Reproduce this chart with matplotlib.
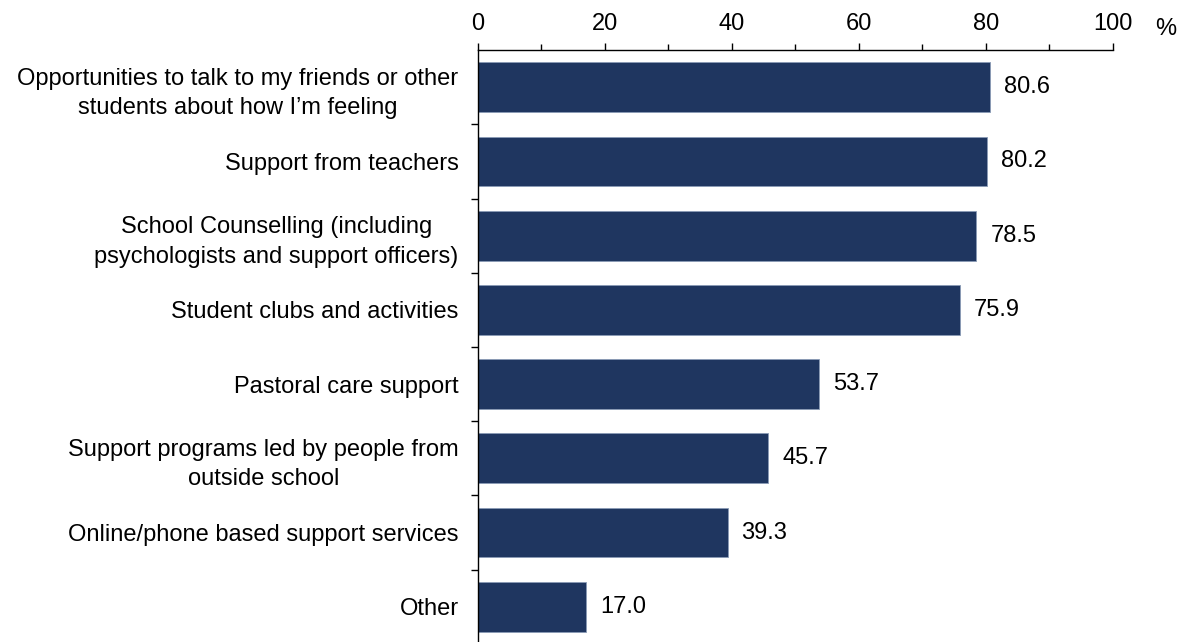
import numpy as np
import matplotlib.pyplot as plt

plt.rcParams['font.family'] = ['Liberation Sans', 'DejaVu Sans']

# Share of students rating each support type as helpful (%)
categories = [
    "Opportunities to talk to my friends or other\nstudents about how I\u2019m feeling",
    "Support from teachers",
    "School Counselling (including\npsychologists and support officers)",
    "Student clubs and activities",
    "Pastoral care support",
    "Support programs led by people from\noutside school",
    "Online/phone based support services",
    "Other",
]
values = [80.6, 80.2, 78.5, 75.9, 53.7, 45.7, 39.3, 17.0]

bar_color = '#1f3660'
fs = 17

fig = plt.figure(figsize=(11.89, 6.42), dpi=100)
ax = fig.add_axes([0.402, -0.003, 0.534, 0.925])

y = np.arange(len(values))
ax.barh(y, values, height=0.67, color=bar_color, edgecolor='#8a9bb5', linewidth=0.6)

for yi, v in zip(y, values):
    ax.text(v + 2.2, yi, f"{v:.1f}", va='center', ha='left', fontsize=fs)

ax.set_xlim(0, 100)
ax.set_ylim(len(values) - 0.5, -0.5)

# value axis along the top
ax.xaxis.tick_top()
ax.set_xticks(np.arange(0, 101, 20))
ax.set_xticks(np.arange(0, 101, 10), minor=True)
ax.tick_params(axis='x', which='both', direction='out', length=5, width=1,
               labelsize=fs, pad=6)
ax.tick_params(axis='x', which='minor', length=4)

# category ticks sit between bars, labels centred on bars
ax.set_yticks(y)
ax.set_yticklabels(categories, fontsize=fs, multialignment='center',
                   linespacing=1.45)
ax.set_yticks(np.arange(0.5, len(values) - 0.5, 1), minor=True)
ax.tick_params(axis='y', which='major', length=0, pad=14)
ax.tick_params(axis='y', which='minor', length=5, width=1, direction='out')

for side in ['right', 'bottom']:
    ax.spines[side].set_visible(False)
ax.spines['top'].set_linewidth(1)
ax.spines['left'].set_linewidth(1)

fig.text(0.98, 0.955, '%', fontsize=fs, ha='center', va='center')

fig.savefig('out.png', dpi=100)
